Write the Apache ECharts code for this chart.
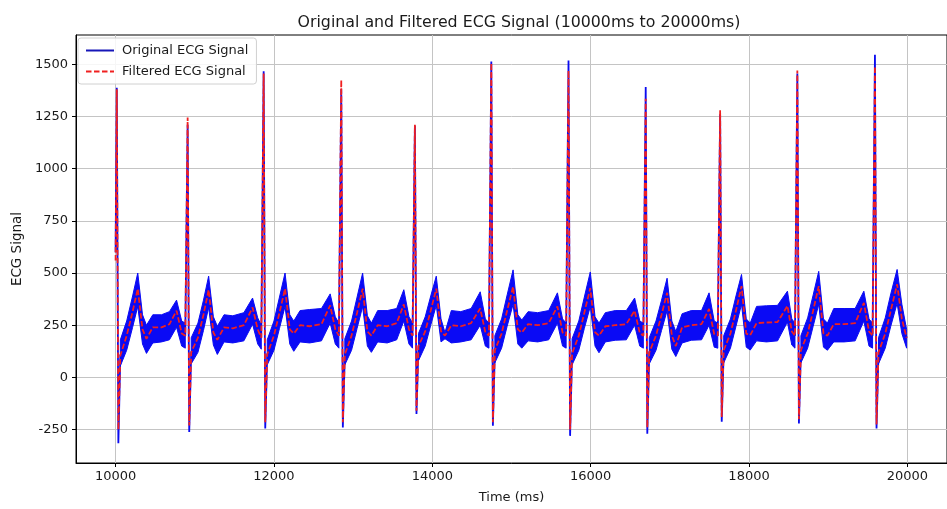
<!DOCTYPE html>
<html>
<head>
<meta charset="utf-8">
<script src="https://cdn.jsdelivr.net/npm/echarts@6/dist/echarts.min.js"></script>
<style>
html,body{margin:0;padding:0;background:#fff;}
#chart{width:947px;height:509px;}
</style>
</head>
<body>
<div id="chart"></div>
<script>
// ---- data ----
const timeMs = [
10000,10015,10035,10060,10140,10215,10280,10340,10390,10470,10580,10680,10770,10835,10880,
10910,10930,10955,11040,11110,11175,11235,11285,11370,11480,11620,11730,11795,11840,
11870,11890,11915,12000,12070,12140,12200,12250,12330,12450,12600,12710,12775,12820,
12850,12870,12895,12980,13050,13120,13180,13230,13310,13430,13550,13640,13705,13750,
13780,13800,13825,13910,13980,14050,14110,14160,14240,14360,14490,14605,14670,14715,
14745,14765,14790,14875,14945,15020,15080,15130,15210,15330,15470,15580,15645,15690,
15720,15740,15765,15850,15920,15995,16055,16105,16185,16310,16450,16555,16620,16665,
16695,16715,16740,16825,16895,16965,17025,17075,17155,17270,17400,17495,17560,17605,
17635,17655,17680,17765,17835,17905,17965,18015,18095,18220,18360,18485,18540,18580,
18610,18630,18655,18740,18810,18880,18940,18990,19070,19200,19340,19450,19515,19560,
19590,19610,19635,19720,19790,19870,19930,19990
];
const filtered = [
560,1380,-250,105,200,315,425,230,185,240,240,255,320,210,200,
1245,-230,120,190,300,420,215,180,240,235,250,335,230,190,
1455,-215,110,200,310,425,230,210,250,245,255,345,230,200,
1425,-215,110,200,310,425,220,200,250,245,260,350,230,200,
1210,-160,150,220,320,425,220,200,250,245,260,330,215,200,
1505,-215,130,210,320,435,230,215,255,250,260,340,215,200,
1470,-250,115,200,310,428,216,200,245,250,255,320,212,200,
1335,-240,120,200,300,405,200,150,240,250,255,328,207,200,
1280,-190,130,210,320,437,210,202,260,263,265,343,220,200,
1470,-200,130,210,320,437,210,200,255,255,260,357,220,200,
1490,-225,120,210,320,446,280,190
];
const original = [
600,1387,-315,105,200,315,425,230,185,240,240,255,320,210,200,
1210,-262,120,190,300,420,215,180,240,235,250,335,230,190,
1466,-245,110,200,310,425,230,210,250,245,255,345,230,200,
1380,-240,110,200,310,425,220,200,250,245,260,350,230,200,
1205,-175,150,220,320,425,220,200,250,245,260,330,215,200,
1513,-232,130,210,320,435,230,215,255,250,260,340,215,200,
1518,-280,115,200,310,428,216,200,245,250,255,320,212,200,
1391,-270,120,200,300,405,200,150,240,250,255,328,207,200,
1260,-212,130,210,320,437,210,202,260,263,265,343,220,200,
1455,-221,130,210,320,437,210,200,255,255,260,357,220,200,
1545,-245,120,210,320,446,280,190
];
const bandHigh = [
null,null,null,180,270,390,500,300,250,300,300,315,370,270,260,
null,null,190,260,370,485,290,245,300,295,310,380,285,250,
null,null,180,270,385,500,300,270,320,325,330,400,290,260,
null,null,185,270,385,500,295,260,320,320,330,420,290,260,
null,null,210,290,390,485,280,215,320,315,330,410,280,260,
null,null,200,280,395,515,300,275,315,310,320,405,280,260,
null,null,185,270,385,505,290,260,310,320,320,380,270,260,
null,null,190,270,370,475,270,220,305,320,320,405,270,260,
null,null,200,280,390,493,280,260,340,343,345,413,280,260,
null,null,200,285,395,508,280,260,330,330,330,413,280,260,
null,null,190,285,400,517,350,230
];
const bandLow = [
null,null,null,55,130,240,340,160,115,165,170,180,240,150,140,
null,null,65,120,225,335,155,110,170,165,175,255,160,135,
null,null,60,130,235,340,160,125,170,165,175,260,160,140,
null,null,60,130,235,340,150,120,170,165,180,270,160,140,
null,null,80,150,250,345,170,185,165,170,180,250,150,140,
null,null,70,140,245,350,160,140,175,170,180,260,150,140,
null,null,60,130,235,340,150,118,170,178,180,250,150,140,
null,null,65,130,225,320,135,100,165,178,180,250,145,140,
null,null,70,140,245,350,145,131,175,170,175,265,155,140,
null,null,70,140,245,350,145,130,170,170,175,270,150,140,
null,null,65,140,245,355,210,140
];
const xTicks = [10000, 12000, 14000, 16000, 18000, 20000];
const yTicks = [-250, 0, 250, 500, 750, 1000, 1250, 1500];

// ---- build chart ----
const runs = [];
let start = -1;
for (let i = 0; i < timeMs.length; i++) {
  const ok = bandHigh[i] != null;
  if (ok && start < 0) start = i;
  if (start >= 0 && (!ok || i === timeMs.length - 1)) {
    runs.push([start, ok ? i : i - 1]);
    start = -1;
  }
}

const FONT = 'DejaVu Sans';
const BLUE = '#0a0af0';
const RED = '#f02020';
const solidIcon = 'path://M0,0h28v2h-28z';
const dashIcon = 'path://M0,0h5.5v2h-5.5z M8,0h5.5v2h-5.5z M16,0h5.5v2h-5.5z M24,0h4v2h-4z';
const plain = v => String(v);

const chart = echarts.init(document.getElementById('chart'), null, {renderer: 'canvas'});
chart.setOption({
  animation: false,
  backgroundColor: '#ffffff',
  title: {
    text: 'Original and Filtered ECG Signal (10000ms to 20000ms)',
    left: 514, top: 10, textAlign: 'center',
    textStyle: {fontFamily: FONT, fontSize: 15.8, fontWeight: 'normal', color: '#1a1a1a'}
  },
  legend: {
    data: [
      {name: 'Original ECG Signal', icon: solidIcon, itemStyle: {color: '#1616b8'}},
      {name: 'Filtered ECG Signal', icon: dashIcon, itemStyle: {color: RED}}
    ],
    orient: 'vertical', left: 78, top: 38,
    itemWidth: 28, itemHeight: 2, itemGap: 8,
    padding: [6, 8, 6, 8],
    backgroundColor: 'rgba(255,255,255,0.85)',
    borderColor: '#d0d0d0', borderWidth: 1, borderRadius: 3,
    textStyle: {fontFamily: FONT, fontSize: 13, color: '#1a1a1a', padding: [0, 0, 0, 3]}
  },
  grid: {
    left: 76, right: -6, top: 35, bottom: 40,
    show: true, borderColor: '#000', borderWidth: 1
  },
  xAxis: {
    type: 'value', min: 9500, max: 20500,
    name: 'Time (ms)', nameLocation: 'middle', nameGap: 28,
    nameTextStyle: {fontFamily: FONT, fontSize: 13, color: '#1a1a1a'},
    axisLine: {show: true, onZero: false, lineStyle: {color: '#000', width: 1}},
    axisTick: {show: true, length: 4, customValues: xTicks, lineStyle: {color: '#000'}},
    axisLabel: {customValues: xTicks, formatter: plain, margin: 7, fontFamily: FONT, fontSize: 13, color: '#1a1a1a'},
    splitLine: {show: true, lineStyle: {color: '#c4c4c4', width: 1}}
  },
  yAxis: {
    type: 'value', min: -410, max: 1640,
    name: 'ECG Signal', nameLocation: 'middle', nameGap: 50, nameRotate: 90,
    nameTextStyle: {fontFamily: FONT, fontSize: 13.5, color: '#1a1a1a'},
    axisLine: {show: true, onZero: false, lineStyle: {color: '#000', width: 1}},
    axisTick: {show: true, length: 4, customValues: yTicks, lineStyle: {color: '#000'}},
    axisLabel: {customValues: yTicks, formatter: plain, margin: 8, fontFamily: FONT, fontSize: 13, color: '#1a1a1a'},
    splitLine: {show: true, lineStyle: {color: '#c4c4c4', width: 1}}
  },
  series: [
    {
      name: 'band', type: 'custom', z: 1, silent: true,
      data: runs.map(r => [timeMs[r[0]], bandHigh[r[0]]]),
      encode: {x: 0, y: 1},
      renderItem: function (params, api) {
        const r = runs[params.dataIndex];
        const pts = [];
        for (let i = r[0]; i <= r[1]; i++) pts.push(api.coord([timeMs[i], bandHigh[i]]));
        for (let i = r[1]; i >= r[0]; i--) pts.push(api.coord([timeMs[i], bandLow[i]]));
        return {type: 'polygon', shape: {points: pts}, style: {fill: '#0a0af5', stroke: '#0a0af5', lineWidth: 1}};
      }
    },
    {
      name: 'Original ECG Signal', type: 'line', z: 2,
      data: timeMs.map((t, i) => [t, original[i]]),
      symbol: 'none', showSymbol: false,
      color: BLUE,
      lineStyle: {color: BLUE, width: 1.8}
    },
    {
      name: 'Filtered ECG Signal', type: 'line', z: 3,
      data: timeMs.map((t, i) => [t, filtered[i]]),
      symbol: 'none', showSymbol: false,
      color: RED,
      lineStyle: {color: RED, width: 1.8, type: [5.5, 2.4]}
    }
  ]
});
</script>
</body>
</html>
